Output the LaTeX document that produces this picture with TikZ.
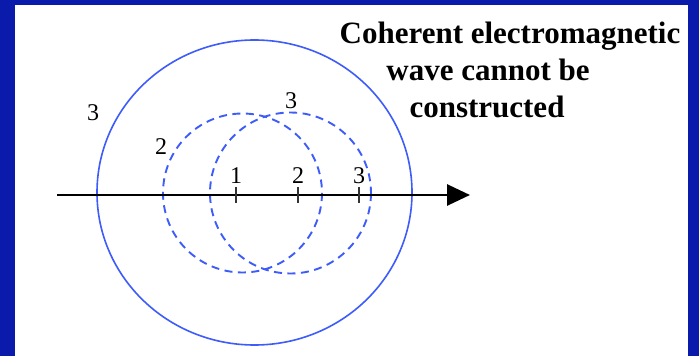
\documentclass[tikz,border=0pt]{standalone}
\usepackage{fontspec}
\setmainfont{Liberation Serif}
\usetikzlibrary{arrows.meta}
\definecolor{frameblue}{RGB}{10,26,170}
\definecolor{waveblue}{RGB}{62,92,250}

\begin{document}
\begin{tikzpicture}[x=1pt,y=-1pt,>={Triangle[length=23pt,width=21pt]},
 wave/.style={draw=waveblue,line width=1.6pt},
 front/.style={wave,line width=1.9pt,dash pattern=on 8pt off 5.5pt},
 lbl/.style={font=\fontsize{24}{28}\selectfont,anchor=base,inner sep=0pt},
 title/.style={font=\fontsize{31}{37}\selectfont\bfseries,anchor=base,inner sep=0pt}]
\useasboundingbox (0,0) rectangle (699,356);
\fill[frameblue] (0,0) rectangle (699,356);
\fill[white] (15,5) rectangle (688,356);
% wave fronts
\draw[wave] (254.5,192.5) ellipse [x radius=157.5,y radius=152.5];
\draw[front] (242.5,193) circle [radius=79.5];
\draw[front] (290.5,193) circle [radius=80.5];
% source axis
\coordinate (axstart) at (57,195);
\coordinate (axend) at (470,195);
\draw[->,line width=2.8pt] (axstart) -- (axend);
\foreach \x in {236,298,359} \draw[line width=1.4pt,black!80] (\x,187) -- (\x,203);
\node[lbl] (p1) at (236,183) {1};
\node[lbl] (p2) at (298,183) {2};
\node[lbl] (p3) at (359,183) {3};
\node[lbl] (a2) at (161,154) {2};
\node[lbl] (a3) at (93,120) {3};
\node[lbl] (b3) at (291,108) {3};
\node[title] (t1) at (510,43) {Coherent electromagnetic};
\node[title] (t2) at (488,80) {wave cannot be};
\node[title] (t3) at (487,117) {constructed};
\end{tikzpicture}
\end{document}
